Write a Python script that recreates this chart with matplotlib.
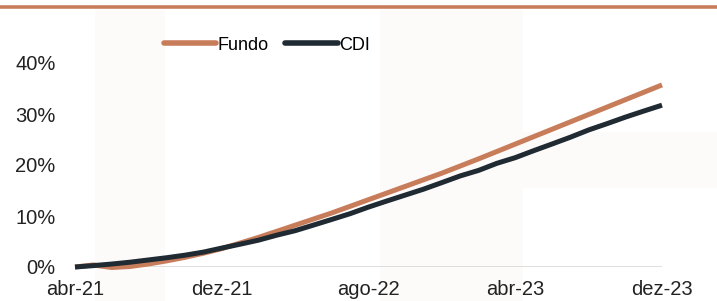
import matplotlib
matplotlib.use("Agg")
import matplotlib.pyplot as plt
from matplotlib.lines import Line2D
from matplotlib.patches import Rectangle
from matplotlib.ticker import FuncFormatter

plt.rcParams["font.family"] = ["Liberation Sans", "DejaVu Sans"]

months = [
    "abr-21", "mai-21", "jun-21", "jul-21", "ago-21", "set-21", "out-21", "nov-21", "dez-21",
    "jan-22", "fev-22", "mar-22", "abr-22", "mai-22", "jun-22", "jul-22", "ago-22", "set-22",
    "out-22", "nov-22", "dez-22", "jan-23", "fev-23", "mar-23", "abr-23", "mai-23", "jun-23",
    "jul-23", "ago-23", "set-23", "out-23", "nov-23", "dez-23",
]
fundo = [
    0.0, 0.4, -0.1, 0.1, 0.6, 1.2, 1.9, 2.7, 3.6,
    4.7, 5.8, 7.0, 8.2, 9.4, 10.6, 11.9, 13.2, 14.5,
    15.8, 17.1, 18.4, 19.8, 21.2, 22.65, 24.1, 25.55, 27.0,
    28.45, 29.9, 31.35, 32.8, 34.25, 35.7,
]
cdi = [
    0.0, 0.27, 0.58, 0.94, 1.38, 1.82, 2.32, 2.92, 3.71,
    4.47, 5.26, 6.24, 7.12, 8.22, 9.33, 10.46, 11.75, 12.94,
    14.10, 15.26, 16.55, 17.86, 18.94, 20.33, 21.44, 22.80, 24.11,
    25.44, 26.87, 28.10, 29.38, 30.57, 31.73,
]
tick_idx = [0, 8, 16, 24, 32]
yticks = [0, 10, 20, 30, 40]

W, H = 717, 301
fig = plt.figure(figsize=(W / 100, H / 100), dpi=100)
fig.patch.set_facecolor("white")

# faint watermark blocks in the background
for x0, y0, x1, y1 in [(95, 10, 165, 301), (380, 10, 523, 301), (523, 132, 717, 188)]:
    fig.patches.append(Rectangle((x0 / W, 1 - y1 / H), (x1 - x0) / W, (y1 - y0) / H,
                                 transform=fig.transFigure, facecolor="#fdfafa",
                                 edgecolor="none", zorder=-5))

# top rule
fig.lines.append(Line2D([0, 1], [1 - 7 / H, 1 - 7 / H], transform=fig.transFigure,
                        color="#c87d5a", lw=2.6))

ax = fig.add_axes([75 / W, 1 - 267 / H, (662 - 75) / W, (267 - 63) / H], zorder=2)
ax.patch.set_alpha(0)
x = list(range(len(months)))
ax.plot(x, fundo, color="#c87d5a", lw=3.6, label="Fundo", clip_on=False, zorder=3,
        solid_capstyle="butt")
ax.plot(x, cdi, color="#1f2a33", lw=3.6, label="CDI", clip_on=False, zorder=4,
        solid_capstyle="butt")
ax.axhline(0, color="#d9d9d9", lw=1.2, zorder=1)

ax.set_xlim(0, len(months) - 1)
ax.set_ylim(0, 40)
ax.set_xticks(tick_idx)
ax.set_xticklabels([months[i] for i in tick_idx])
ax.set_yticks(yticks)
ax.yaxis.set_major_formatter(FuncFormatter(lambda v, _: f"{v:.0f}%"))
ax.tick_params(axis="both", length=0, labelsize=14.5, colors="#222222")
ax.tick_params(axis="y", pad=14)
ax.tick_params(axis="x", pad=9.5)
for s in ax.spines.values():
    s.set_visible(False)

leg = ax.legend(loc="center", bbox_to_anchor=(267 / W, 1 - 45 / H),
                bbox_transform=fig.transFigure, ncol=2, frameon=False,
                handlelength=2.9, handletextpad=0.1, columnspacing=0.9,
                prop={"size": 13})
for h in leg.get_lines():
    h.set_linewidth(4)
    h.set_solid_capstyle("round")

fig.savefig("out.png", dpi=100)
